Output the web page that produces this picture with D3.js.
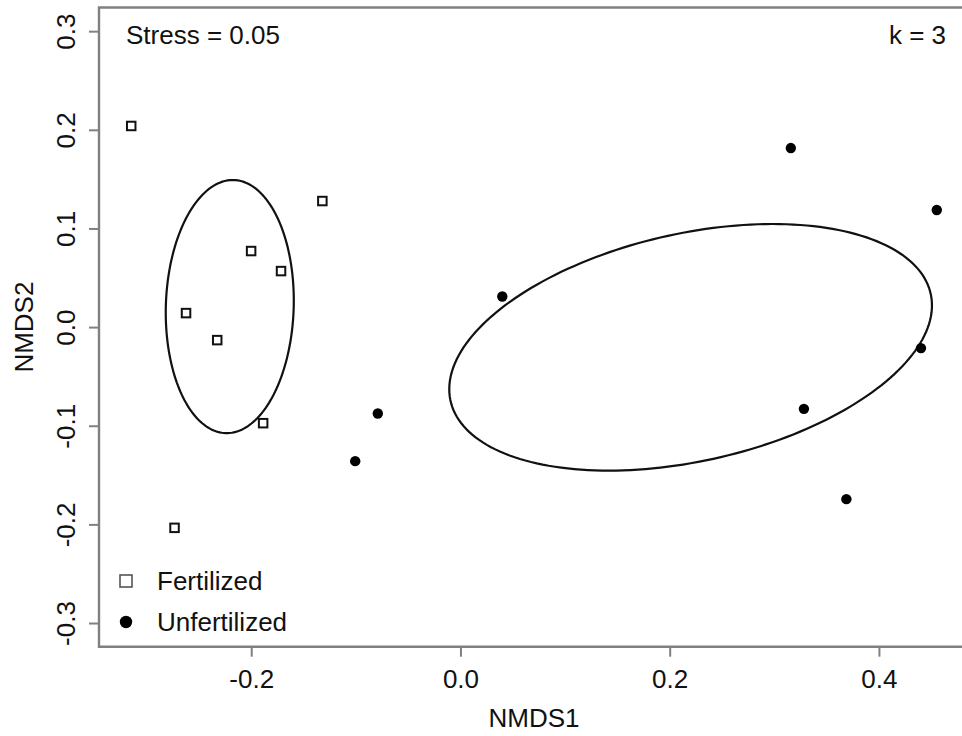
<!DOCTYPE html>
<html>
<head>
<meta charset="utf-8">
<script src="https://cdn.jsdelivr.net/npm/d3@7/dist/d3.min.js"></script>
<style>
  html, body { margin: 0; padding: 0; background: #fff; }
  svg { display: block; }
  text { font-family: "Liberation Sans", Arial, sans-serif; fill: #111; }
</style>
</head>
<body>
<svg id="chart" width="962" height="736"></svg>
<script>
// NMDS site scores
const fertX = [-0.3147, -0.1320, -0.2001, -0.1715, -0.2623, -0.2325, -0.1886, -0.2733];
const fertY = [ 0.2039,  0.1278,  0.0771,  0.0568,  0.0142, -0.0132, -0.0974, -0.2035];
const unfertX = [0.3158, 0.4553, 0.4402, 0.3283, 0.3689, 0.0400, -0.0790, -0.1006];
const unfertY = [0.1815, 0.1187, -0.0213, -0.0829, -0.1744, 0.0310, -0.0876, -0.1359];

// Group ellipses: centre and scaled covariance (sxx, sxy, syy)
const ellipseCentres = [[-0.2205, 0.0208], [0.2200, -0.0205]];
const ellipseCov = [[0.003745, 0.00037, 0.01646], [0.05322, 0.0098, 0.015625]];

const xTicks = [-0.2, 0.0, 0.2, 0.4];
const xTickLabels = ["-0.2", "0.0", "0.2", "0.4"];
const yTicks = [-0.3, -0.2, -0.1, 0.0, 0.1, 0.2, 0.3];
const yTickLabels = ["-0.3", "-0.2", "-0.1", "0.0", "0.1", "0.2", "0.3"];
const yLimits = [-0.3, 0.3];

const groupNames = ["Fertilized", "Unfertilized"];
const stressText = "Stress = 0.05";
const kText = "k = 3";

const svg = d3.select("#chart");
const W = 962, H = 736;
const plot = { left: 99, right: 969, top: 7.5, bottom: 646.7 };

// Axis limits with 4% padding on each side
const allX = fertX.concat(unfertX);
const xr = d3.extent(allX);
const xpad = (xr[1] - xr[0]) * 0.04;
const ypad = (yLimits[1] - yLimits[0]) * 0.04;

const x = d3.scaleLinear().domain([xr[0] - xpad, xr[1] + xpad]).range([plot.left, plot.right]);
const y = d3.scaleLinear().domain([yLimits[0] - ypad, yLimits[1] + ypad]).range([plot.bottom, plot.top]);

svg.append("rect").attr("width", W).attr("height", H).attr("fill", "#fff");

const axisColor = "#808080";
const fontSize = 26;

// Frame
svg.append("path")
  .attr("d", `M${plot.right},${plot.top}H${plot.left}V${plot.bottom}H${plot.right}`)
  .attr("fill", "none").attr("stroke", axisColor).attr("stroke-width", 2.4);

// X axis
const gx = svg.append("g").attr("transform", `translate(0,${plot.bottom})`)
  .call(d3.axisBottom(x).tickValues(xTicks).tickSize(10)
    .tickFormat((d, i) => xTickLabels[i]));
gx.select(".domain").remove();
gx.selectAll(".tick line").attr("stroke", axisColor).attr("stroke-width", 2);
gx.selectAll(".tick text").attr("y", 41).attr("dy", 0)
  .style("font-size", fontSize + "px").attr("fill", "#111");

// Y axis
const gy = svg.append("g").attr("transform", `translate(${plot.left},0)`)
  .call(d3.axisLeft(y).tickValues(yTicks).tickSize(10)
    .tickFormat((d, i) => yTickLabels[i]));
gy.select(".domain").remove();
gy.selectAll(".tick line").attr("stroke", axisColor).attr("stroke-width", 2);
gy.selectAll(".tick text").attr("x", 0).attr("dy", 0)
  .attr("transform", "translate(-24,0) rotate(-90)")
  .attr("text-anchor", "middle")
  .style("font-size", fontSize + "px").attr("fill", "#111");

// Axis titles
svg.append("text").attr("x", (plot.left + plot.right) / 2).attr("y", 727)
  .attr("text-anchor", "middle").style("font-size", fontSize + "px").text("NMDS1");
svg.append("text")
  .attr("transform", `translate(33,${(plot.top + plot.bottom) / 2}) rotate(-90)`)
  .attr("text-anchor", "middle").style("font-size", fontSize + "px").text("NMDS2");

// Ellipses from centre + covariance via Cholesky factor
const line = d3.line().x(d => x(d[0])).y(d => y(d[1])).curve(d3.curveLinearClosed);
ellipseCentres.forEach((c, k) => {
  const [sxx, sxy, syy] = ellipseCov[k];
  const a = Math.sqrt(sxx);
  const b = sxy / a;
  const cc = Math.sqrt(syy - b * b);
  const pts = d3.range(200).map(i => {
    const t = i / 200 * 2 * Math.PI;
    const u = Math.cos(t), v = Math.sin(t);
    return [c[0] + a * u, c[1] + b * u + cc * v];
  });
  svg.append("path").attr("d", line(pts))
    .attr("fill", "none").attr("stroke", "#111").attr("stroke-width", 2.2);
});

// Points
const sq = 8.5;
svg.append("g").selectAll("rect").data(d3.range(fertX.length)).join("rect")
  .attr("x", i => x(fertX[i]) - sq / 2).attr("y", i => y(fertY[i]) - sq / 2)
  .attr("width", sq).attr("height", sq)
  .attr("fill", "#fff").attr("stroke", "#111").attr("stroke-width", 2);

svg.append("g").selectAll("circle").data(d3.range(unfertX.length)).join("circle")
  .attr("cx", i => x(unfertX[i])).attr("cy", i => y(unfertY[i]))
  .attr("r", 5.2).attr("fill", "#000");

// Annotations
svg.append("text").attr("x", 126).attr("y", 44).style("font-size", fontSize + "px").text(stressText);
svg.append("text").attr("x", 946).attr("y", 44).attr("text-anchor", "end")
  .style("font-size", fontSize + "px").text(kText);

// Legend
const lg = svg.append("g");
lg.append("rect").attr("x", 120).attr("y", 575).attr("width", 12).attr("height", 12)
  .attr("fill", "#fff").attr("stroke", "#555").attr("stroke-width", 1.6);
lg.append("circle").attr("cx", 126).attr("cy", 622).attr("r", 6.2).attr("fill", "#000");
lg.append("text").attr("x", 157).attr("y", 590).style("font-size", fontSize + "px").text(groupNames[0]);
lg.append("text").attr("x", 157).attr("y", 631).style("font-size", fontSize + "px").text(groupNames[1]);
</script>
</body>
</html>
